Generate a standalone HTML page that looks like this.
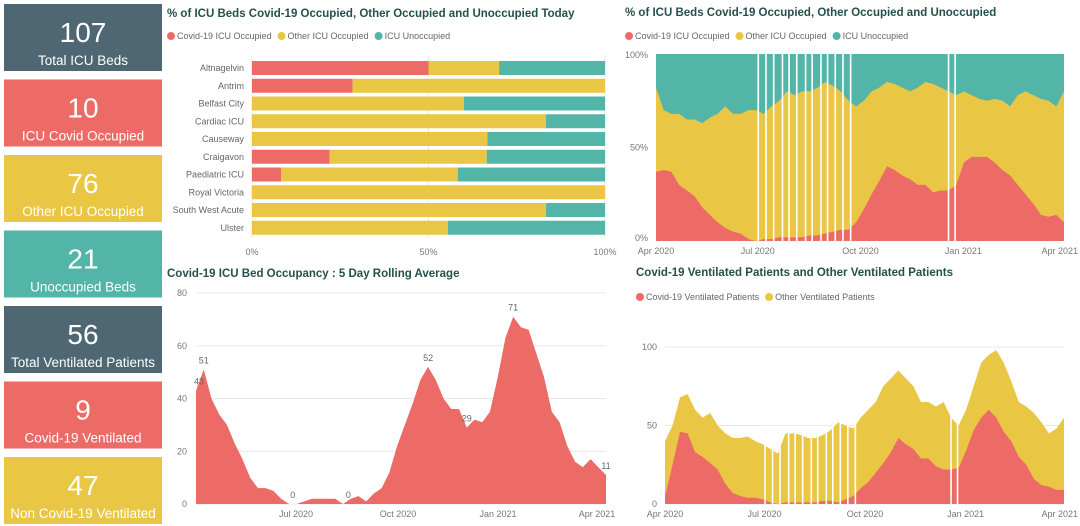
<!DOCTYPE html>
<html><head><meta charset="utf-8">
<style>
body{margin:0;background:#fff;font-family:"Liberation Sans",sans-serif;}
svg{display:block}
text{font-family:"Liberation Sans",sans-serif}
</style></head>
<body>
<svg id="s" width="1080" height="526" viewBox="0 0 1080 526" xmlns="http://www.w3.org/2000/svg"></svg>
<script>
// ---- Data ----
const kpiValues = ["107","10","76","21","56","9","47"];
const kpiLabels = ["Total ICU Beds","ICU Covid Occupied","Other ICU Occupied","Unoccupied Beds","Total Ventilated Patients","Covid-19 Ventilated","Non Covid-19 Ventilated"];
const kpiColors = ["#4f6772","#ec6b66","#e9c744","#53b5a8","#4f6772","#ec6b66","#e9c744"];

const hospitals = ["Altnagelvin","Antrim","Belfast City","Cardiac ICU","Causeway","Craigavon","Paediatric ICU","Royal Victoria","South West Acute","Ulster"];
const hospCovid = [50,28.5,0,0,0,22,8.3,0,0,0];
const hospOther = [20,71.5,60,83.3,66.7,44.5,50,100,83.3,55.5];
const hospUnocc = [30,0,40,16.7,33.3,33.5,41.7,0,16.7,44.5];
const pctTicks = ["0%","50%","100%"];

// weekly series, week 0 = 1 Apr 2020
const covidPct = [37,38,37,30,27,24,18,14,10,7,5,4,1,0,1,1,2,2,2,2,3,3,4,5,6,6,10,17,25,32,40,38,35,33,30,30,26,27,27,30,42,45,45,45,42,38,35,30,25,20,14,13,14,10];
const occPct = [82,70,68,68,65,65,63,66,68,72,68,68,70,70,68,72,75,80,78,80,80,82,85,83,80,75,72,75,80,82,85,84,82,80,82,85,84,82,80,78,80,78,76,75,76,75,72,78,80,78,76,75,72,80];
const gapDays = [93,100,107,115,121,128,136,142,150,156,163,170,177,266,272];

const rollAvg = [43,51,40,34,30,23,17,10,6,6,5,2,0,0,1,2,2,2,2,0,2,3,1,4,6,12,22,30,38,47,52,47,40,36,36,29,32,31,35,48,63,71,67,66,57,48,35,31,22,16,14,17,14,11];
const rollLabels = [[0,43],[1,51],[12.5,0],[19.7,0],[30,52],[35,29],[41,71],[53,11]];

const ventCovid = [5,25,46,45,33,30,26,22,13,7,5,4,4,3,1,0,1,1,1,1,1,2,2,1,3,5,10,14,20,26,33,42,38,35,29,29,24,22,22,23,34,47,55,60,55,46,40,30,25,16,12,11,9,9];
const ventTotal = [40,50,68,70,60,55,58,50,45,42,42,43,40,38,35,32,45,45,44,42,42,44,47,52,50,48,55,60,65,75,80,85,80,75,65,65,62,65,55,50,60,75,90,95,98,90,78,65,62,58,52,45,48,55];
const dateTicks = ["Apr 2020","Jul 2020","Oct 2020","Jan 2021","Apr 2021"];
const dateTickDays = [0,91,183,275,365];

const RED="#ec6b66",YEL="#e9c744",TEAL="#53b5a8",GRID="#e8e8e8",LBL="#777",TTL="#25504c";
const svg=document.getElementById('s');
function mk(tag,attrs,parent){const e=document.createElementNS("http://www.w3.org/2000/svg",tag);for(const k in attrs)e.setAttribute(k,attrs[k]);(parent||svg).appendChild(e);return e;}
function txt(x,y,s,size,fill,anchor,weight,parent){const t=mk('text',{x:x,y:y,'font-size':size,fill:fill,'text-anchor':anchor||'start','font-weight':weight||'normal'},parent);t.textContent=s;return t;}

// ---- KPI cards ----
kpiValues.forEach((v,i)=>{
  const y=4+i*75.5;
  const g=mk('g',{});
  
  
  mk('rect',{x:4,y:y,width:158,height:67,fill:kpiColors[i]},g);
  const n=txt(83,y+38,v,28,'#fff','middle','normal',g);
  
  
  const l=txt(83,y+61,kpiLabels[i],13.5,'#fff','middle','normal',g);
  
  
});

function legend(x,y,items,parent){
  let cx=x;
  items.forEach(([c,s])=>{
    const g=mk('g',{},parent);
    
    
    mk('circle',{cx:cx+4,cy:y-3,r:4,fill:c},g);
    const t=txt(cx+10,y,s,9,'#666','start','normal',g);
    cx+=10+t.getComputedTextLength()+6;
  });
}
function title(x,y,s){const t=txt(x,y,s,11.5,TTL,'start','bold');return t;}

// ---- Chart 1: hospital bars ----
{
  const g=mk('g',{});
  
  
  title(167,17,"% of ICU Beds Covid-19 Occupied, Other Occupied and Unoccupied Today");
  legend(167,39,[[RED,"Covid-19 ICU Occupied"],[YEL,"Other ICU Occupied"],[TEAL,"ICU Unoccupied"]],g);
  const x0=252,x1=605; const xs=v=>x0+(x1-x0)*v/100;
  pctTicks.forEach((t,i)=>{const x=xs(i*50);mk('line',{x1:x,x2:x,y1:55,y2:238,stroke:GRID},g);const l=txt(x,255,t,9,LBL,'middle','normal',g);});
  hospitals.forEach((h,i)=>{
    const cy=68+i*17.75,h2=14;
    const l=txt(244,cy+3,h,9,'#666','end','normal',g);
    
    
    let acc=0;
    [[hospCovid[i],RED,'covid'],[hospOther[i],YEL,'other'],[hospUnocc[i],TEAL,'unoccupied']].forEach(([v,c,n])=>{
      if(v>0){const r=mk('rect',{x:xs(acc),y:cy-h2/2,width:xs(acc+v)-xs(acc),height:h2,fill:c},g);
      
      }
      acc+=v;
    });
  });
}

// weekly area helper
function areaPath(vals,xs,ys){
  let d='M'+xs(0)+','+ys(0);
  vals.forEach((v,i)=>{d+=' L'+xs(i*7)+','+ys(v);});
  const n=vals.length-1;
  d+=' L'+xs(n*7)+','+ys(0);
  return d+'Z';
}

// ---- Chart 2: 100% stacked over time ----
{
  const g=mk('g',{});
  
  
  title(625,16,"% of ICU Beds Covid-19 Occupied, Other Occupied and Unoccupied");
  legend(625,39,[[RED,"Covid-19 ICU Occupied"],[YEL,"Other ICU Occupied"],[TEAL,"ICU Unoccupied"]],g);
  const x0=656,x1=1064,y0=241,y1=54;
  const xs=d=>x0+(x1-x0)*d/(53*7); const ys=v=>y0-(y0-y1)*v/100;
  const un=mk('rect',{x:x0,y:y1,width:x1-x0,height:y0-y1,fill:TEAL},g);
  
  
  const other=mk('path',{d:areaPath(occPct,xs,ys),fill:YEL},g);
  
  
  const cov=mk('path',{d:areaPath(covidPct,xs,ys),fill:RED},g);
  
  
  gapDays.forEach(d=>{const r=mk('rect',{x:xs(d)-0.8,y:y1,width:1.6,height:y0-y1,fill:'#fff'},g);});
  pctTicks.forEach((t,i)=>{const l=txt(648,ys(i*50)+(i==2?4:i==0?0:3),t,9,LBL,'end','normal',g);});
  dateTicks.forEach((t,i)=>{const x=x0+(x1-x0)*dateTickDays[i]/365;const l=txt(i==4?1078:x,254,t,9,LBL,i==4?'end':'middle','normal',g);});
}

// ---- Chart 3: rolling average ----
{
  const g=mk('g',{});
  
  
  title(167,277,"Covid-19 ICU Bed Occupancy : 5 Day Rolling Average");
  const x0=196,x1=606,y0=504,y1=293;
  const xs=d=>x0+(x1-x0)*d/(53*7); const ys=v=>y0-(y0-y1)*v/80;
  [0,20,40,60,80].forEach(v=>{mk('line',{x1:x0,x2:x1,y1:ys(v),y2:ys(v),stroke:GRID},g);const l=txt(187,ys(v)+3,String(v),9,LBL,'end','normal',g);});
  const a=mk('path',{d:areaPath(rollAvg,xs,ys),fill:RED},g);
  
  
  rollLabels.forEach(([w,v])=>{const l=txt(xs(w*7)+(w==0?3:0),ys(v)-6,String(v),9,'#666','middle','normal',g);});
  const qx=[296,398,498,597];
  dateTicks.slice(1).forEach((t,i)=>{const l=txt(qx[i],517,t,9,LBL,'middle','normal',g);});
}

// ---- Chart 4: ventilated ----
{
  const g=mk('g',{});
  
  
  title(636,276,"Covid-19 Ventilated Patients and Other Ventilated Patients");
  legend(636,300,[[RED,"Covid-19 Ventilated Patients"],[YEL,"Other Ventilated Patients"]],g);
  const x0=665,x1=1064,y0=504,y1=347;
  const xs=d=>x0+(x1-x0)*d/(53*7); const ys=v=>y0-(y0-y1)*v/100;
  [0,50,100].forEach(v=>{mk('line',{x1:x0,x2:x1,y1:ys(v),y2:ys(v),stroke:GRID},g);const l=txt(657,ys(v)+3,String(v),9,LBL,'end','normal',g);});
  const o=mk('path',{d:areaPath(ventTotal,xs,ys),fill:YEL},g);
  
  
  const c=mk('path',{d:areaPath(ventCovid,xs,ys),fill:RED},g);
  
  
  gapDays.forEach(d=>{const r=mk('rect',{x:xs(d)-0.8,y:ys(70),width:1.6,height:y0-ys(70),fill:'#fff'},g);});
  dateTicks.forEach((t,i)=>{const x=x0+(x1-x0)*dateTickDays[i]/365;const l=txt(i==4?1078:x,517,t,9,LBL,i==4?'end':'middle','normal',g);});
}
</script>
</body></html>
